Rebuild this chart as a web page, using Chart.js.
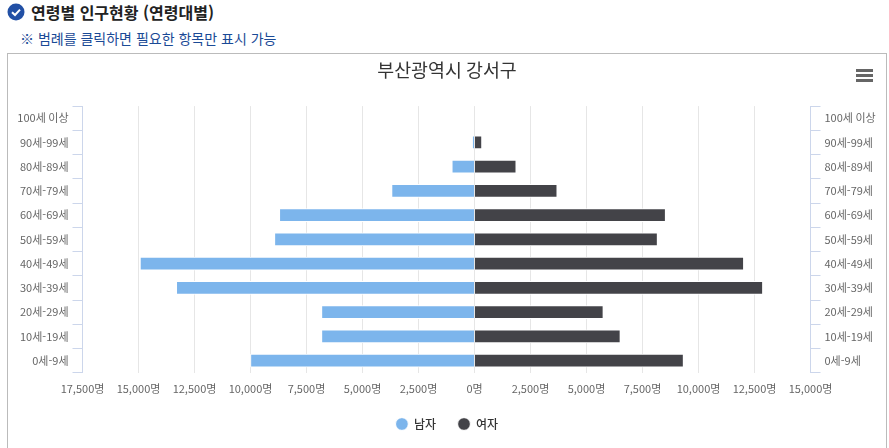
<!DOCTYPE html>
<html lang="ko">
<head>
<meta charset="utf-8">
<title>연령별 인구현황</title>
<script src="https://cdn.jsdelivr.net/npm/chart.js@4"></script>
<style>
  html, body { margin: 0; padding: 0; background: #fff; overflow: hidden; }
  body { width: 889px; height: 448px; position: relative; font-family: "Noto Sans CJK KR", "Noto Sans", sans-serif; }
  .check { position: absolute; left: 7px; top: 3px; }
  h3 { position: absolute; left: 31px; top: 1px; margin: 0; font-size: 16px; line-height: 22px; font-weight: 700; color: #222; }
  .note { position: absolute; left: 20px; top: 29px; font-size: 14px; line-height: 18px; color: #1a4a96; }
  .box { position: absolute; left: 7px; top: 53px; width: 878px; height: 400px; border: 1px solid #bbb; }
  canvas { display: block; }
  .menu { position: absolute; left: 848px; top: 15px; width: 17px; height: 13px; }
  .menu i { display: block; height: 3px; margin-bottom: 2px; background: #666; }
</style>
</head>
<body>
<svg class="check" width="18" height="18" viewBox="0 0 18 18">
  <circle cx="9" cy="9" r="8.5" fill="#2250a5"></circle>
  <path d="M5 9.2 L8 12 L13 6.6" fill="none" stroke="#fff" stroke-width="2"></path>
</svg>
<h3>연령별 인구현황 (연령대별)</h3>
<div class="note">※ 범례를 클릭하면 필요한 항목만 표시 가능</div>
<div class="box">
  <canvas id="pyramid" width="878" height="395"></canvas>
  <div class="menu"><i></i><i></i><i></i></div>
</div>
<script>
const ageGroups = ["0세-9세","10세-19세","20세-29세","30세-39세","40세-49세","50세-59세","60세-69세","70세-79세","80세-89세","90세-99세","100세 이상"]
const male = [-10000,-6830,-6830,-13310,-14930,-8930,-8710,-3700,-1010,-90,0]
const female = [9330,6510,5750,12870,12020,8170,8530,3690,1860,330,0]
const textColor = '#666666'
const lineColor = '#ccd6eb'

const mychart = new Chart(document.getElementById("pyramid"), {
    type: 'bar',
    data: {
        labels: ageGroups,
        datasets: [
            {label:'남자', data:male, backgroundColor:'#7cb5ec', borderColor:'#ffffff', borderWidth:1, barThickness:13, stack:'s1'},
            {label:'여자', data:female, backgroundColor:'#434348', borderColor:'#ffffff', borderWidth:1, barThickness:13, stack:'s1'}
        ]
    },
    options: {
        indexAxis: 'y',
        responsive: false,
        animation: false,
        layout: {padding:{top:5, bottom:9}},
        plugins: {
            title: {display:true, text:'부산광역시 강서구', color:'#333333', font:{size:18.4, weight:'normal', family:'"Noto Sans CJK KR"'}, padding:{top:0, bottom:25}},
            legend: {
                position:'bottom',
                labels:{usePointStyle:true, pointStyle:'circle', boxWidth:16, boxHeight:9, padding:22, color:'#333333', font:{size:12, weight:'500', family:'"Noto Sans CJK KR"'}}
            }
        },
        scales: {
            x: {
                stacked: true,
                min: -17500,
                max: 15000,
                afterFit: scale => { scale.height -= 8 },
                border: {display:false},
                grid: {color:'#e6e6e6', drawTicks:false},
                ticks: {
                    stepSize: 2500,
                    autoSkip: false,
                    maxRotation: 0,
                    padding: 9,
                    color: textColor,
                    font: {size:11, family:'"Noto Sans CJK KR"'},
                    callback: v => Math.abs(v).toLocaleString('en-US') + '명'
                }
            },
            y: {
                stacked: true,
                reverse: true,
                afterFit: scale => { scale.width = 74.5 },
                border: {color:lineColor},
                grid: {color:lineColor, drawOnChartArea:false, tickLength:10},
                ticks: {padding:4, color:textColor, font:{size:11, family:'"Noto Sans CJK KR"'}, autoSkip:false}
            },
            y2: {
                type: 'category',
                labels: ageGroups,
                position: 'right',
                reverse: true,
                afterFit: scale => { scale.width = 75.5 },
                border: {color:lineColor},
                grid: {color:lineColor, drawOnChartArea:false, tickLength:10, offset:true},
                offset: true,
                ticks: {padding:4, color:textColor, font:{size:11, family:'"Noto Sans CJK KR"'}, autoSkip:false}
            }
        }
    }
})
</script>
</body>
</html>
